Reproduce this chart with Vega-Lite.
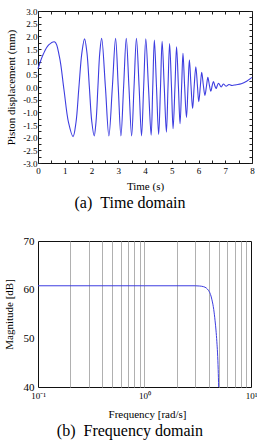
{
  "$schema": "https://vega.github.io/schema/vega-lite/v6.json",
  "padding": {"left": 2, "top": 6, "right": 0, "bottom": 0},
  "spacing": 22,
  "config": {
    "font": "Liberation Serif",
    "view": {"stroke": "#111", "strokeWidth": 1},
    "axis": {
      "labelFont": "Liberation Serif",
      "titleFont": "Liberation Serif",
      "titleFontWeight": "normal",
      "labelColor": "#000",
      "titleColor": "#000",
      "tickColor": "#222",
      "domain": false,
      "grid": false,
      "labelOverlap": false,
      "labelFlush": false,
      "labelBound": false,
      "titleFontSize": 11
    },
    "title": {"font": "Liberation Serif", "fontWeight": "normal", "fontSize": 16, "color": "#000"}
  },
  "vconcat": [
    {
      "width": 214,
      "height": 152,
      "title": {"text": "(a)\u00a0\u00a0Time domain", "orient": "bottom", "anchor": "middle", "frame": "bounds", "offset": 4},
      "data": {"values": [
        {"t": 0.00, "y": 0.72}, {"t": 0.20, "y": 1.30}, {"t": 0.40, "y": 1.66}, {"t": 0.63, "y": 1.78},
        {"t": 0.80, "y": 1.20}, {"t": 0.97, "y": -0.10}, {"t": 1.14, "y": -1.40}, {"t": 1.31, "y": -1.96},
        {"t": 1.42, "y": -1.40}, {"t": 1.53, "y": 0.0}, {"t": 1.64, "y": 1.35}, {"t": 1.74, "y": 1.90},
        {"t": 1.83, "y": 1.35}, {"t": 1.92, "y": 0.0}, {"t": 2.01, "y": -1.36}, {"t": 2.10, "y": -1.93},
        {"t": 2.17, "y": -1.36}, {"t": 2.24, "y": 0.0}, {"t": 2.31, "y": 1.36}, {"t": 2.38, "y": 1.92},
        {"t": 2.52, "y": 0.0}, {"t": 2.65, "y": -1.93}, {"t": 2.78, "y": 0.0}, {"t": 2.90, "y": 1.92},
        {"t": 3.00, "y": 0.0}, {"t": 3.10, "y": -1.93}, {"t": 3.20, "y": 0.0}, {"t": 3.30, "y": 1.92},
        {"t": 3.40, "y": 0.0}, {"t": 3.50, "y": -1.93}, {"t": 3.59, "y": 0.0}, {"t": 3.68, "y": 1.92},
        {"t": 3.78, "y": 0.0}, {"t": 3.87, "y": -1.93}, {"t": 3.95, "y": 0.0}, {"t": 4.03, "y": 1.90},
        {"t": 4.13, "y": 0.0}, {"t": 4.23, "y": -1.90}, {"t": 4.29, "y": 0.0}, {"t": 4.35, "y": 1.85},
        {"t": 4.43, "y": 0.0}, {"t": 4.51, "y": -1.87}, {"t": 4.58, "y": 0.0}, {"t": 4.64, "y": 1.80},
        {"t": 4.72, "y": 0.0}, {"t": 4.80, "y": -1.78}, {"t": 4.86, "y": 0.0}, {"t": 4.92, "y": 1.72},
        {"t": 4.99, "y": 0.0}, {"t": 5.05, "y": -1.65}, {"t": 5.12, "y": 0.0}, {"t": 5.18, "y": 1.59},
        {"t": 5.25, "y": 0.0}, {"t": 5.31, "y": -1.45}, {"t": 5.37, "y": 0.05}, {"t": 5.42, "y": 1.33},
        {"t": 5.48, "y": 0.05}, {"t": 5.55, "y": -1.20}, {"t": 5.61, "y": 0.05}, {"t": 5.66, "y": 1.07},
        {"t": 5.72, "y": 0.05}, {"t": 5.78, "y": -0.85}, {"t": 5.84, "y": 0.05}, {"t": 5.90, "y": 0.80},
        {"t": 5.96, "y": 0.05}, {"t": 6.01, "y": -0.58}, {"t": 6.07, "y": 0.05}, {"t": 6.12, "y": 0.58},
        {"t": 6.18, "y": 0.08}, {"t": 6.24, "y": -0.33}, {"t": 6.30, "y": 0.05}, {"t": 6.35, "y": 0.38},
        {"t": 6.41, "y": 0.05}, {"t": 6.46, "y": -0.17}, {"t": 6.51, "y": 0.05}, {"t": 6.56, "y": 0.22},
        {"t": 6.61, "y": 0.05}, {"t": 6.66, "y": -0.06}, {"t": 6.70, "y": 0.05}, {"t": 6.75, "y": 0.15},
        {"t": 6.85, "y": 0.00}, {"t": 6.93, "y": 0.12}, {"t": 7.03, "y": 0.03}, {"t": 7.14, "y": 0.10},
        {"t": 7.25, "y": 0.06}, {"t": 7.40, "y": 0.09}, {"t": 7.60, "y": 0.13}, {"t": 7.80, "y": 0.23},
        {"t": 8.00, "y": 0.38}
      ]},
      "layer": [
        {
          "mark": {"type": "line", "color": "#3d3de0", "strokeWidth": 1.1, "interpolate": "catmull-rom"},
          "encoding": {
            "x": {"field": "t", "type": "quantitative", "scale": {"domain": [0, 8], "nice": false},
              "axis": {"title": "Time (s)", "values": [0,0.5,1,1.5,2,2.5,3,3.5,4,4.5,5,5.5,6,6.5,7,7.5,8],
                "labelExpr": "datum.value % 1 == 0 ? format(datum.value, 'd') : ''",
                "labelFontSize": 9, "tickSize": -3, "labelPadding": 6, "titlePadding": 5}},
            "y": {"field": "y", "type": "quantitative", "scale": {"domain": [-3, 3], "nice": false},
              "axis": {"title": "Piston displacement (mm)",
                "values": [-3,-2.75,-2.5,-2.25,-2,-1.75,-1.5,-1.25,-1,-0.75,-0.5,-0.25,0,0.25,0.5,0.75,1,1.25,1.5,1.75,2,2.25,2.5,2.75,3],
                "labelExpr": "(datum.value * 2) % 1 == 0 ? (datum.value < 0 ? '-' : '') + format(abs(datum.value), '.1f') : ''",
                "labelFontSize": 9, "tickSize": -3, "labelPadding": 4, "titlePadding": 6}}
          }
        },
        {
          "mark": {"type": "line", "opacity": 0},
          "encoding": {
            "x": {"field": "t", "type": "quantitative", "scale": {"domain": [0, 8], "nice": false},
              "axis": {"orient": "top", "title": null, "labels": false, "values": [0,0.5,1,1.5,2,2.5,3,3.5,4,4.5,5,5.5,6,6.5,7,7.5,8], "tickSize": -3}},
            "y": {"field": "y", "type": "quantitative", "scale": {"domain": [-3, 3], "nice": false},
              "axis": {"orient": "right", "title": null, "labels": false,
                "values": [-3,-2.75,-2.5,-2.25,-2,-1.75,-1.5,-1.25,-1,-0.75,-0.5,-0.25,0,0.25,0.5,0.75,1,1.25,1.5,1.75,2,2.25,2.5,2.75,3], "tickSize": -3}}
          }
        }
      ],
      "resolve": {"axis": {"x": "independent", "y": "independent"}}
    },
    {
      "width": 213,
      "height": 146,
      "title": {"text": "(b)\u00a0\u00a0Frequency domain", "orient": "bottom", "anchor": "middle", "frame": "bounds", "offset": 4},
      "data": {"values": [
        {"f": 0.1, "m": 60.8}, {"f": 1, "m": 60.8}, {"f": 3, "m": 60.8}, {"f": 3.3, "m": 60.75},
        {"f": 3.6, "m": 60.6}, {"f": 3.8, "m": 60.35}, {"f": 4.0, "m": 59.8}, {"f": 4.17, "m": 59.0},
        {"f": 4.3, "m": 57.9}, {"f": 4.47, "m": 55.9}, {"f": 4.6, "m": 53.6}, {"f": 4.69, "m": 51.7},
        {"f": 4.78, "m": 49.3}, {"f": 4.85, "m": 47.0}, {"f": 4.92, "m": 43.6}, {"f": 4.97, "m": 40.0}
      ]},
      "mark": {"type": "line", "color": "#3d3de0", "strokeWidth": 1, "interpolate": "monotone", "clip": true},
      "encoding": {
        "x": {"field": "f", "type": "quantitative", "scale": {"type": "log", "domain": [0.1, 10], "nice": false},
          "axis": {"title": "Frequency [rad/s]", "values": [0.1,0.2,0.3,0.4,0.5,0.6,0.7,0.8,0.9,1,2,3,4,5,6,7,8,9,10],
            "labelExpr": "datum.value == 0.1 ? '10⁻¹' : datum.value == 1 ? '10⁰' : datum.value == 10 ? '10¹' : ''",
            "labelFontSize": 9, "ticks": false, "labelPadding": 4, "titlePadding": 8, "titleX": 109,
            "grid": true, "gridColor": "#b0b0b0", "gridWidth": 1,
            "gridOpacity": {"condition": {"test": "datum.value == 0.1 || datum.value == 10", "value": 0}, "value": 1}}},
        "y": {"field": "m", "type": "quantitative", "scale": {"domain": [40, 70], "nice": false},
          "axis": {"title": "Magnitude [dB]", "values": [40, 50, 60, 70], "labelFontSize": 11, "ticks": false, "labelPadding": 4, "titlePadding": 9}}
      }
    }
  ]
}
